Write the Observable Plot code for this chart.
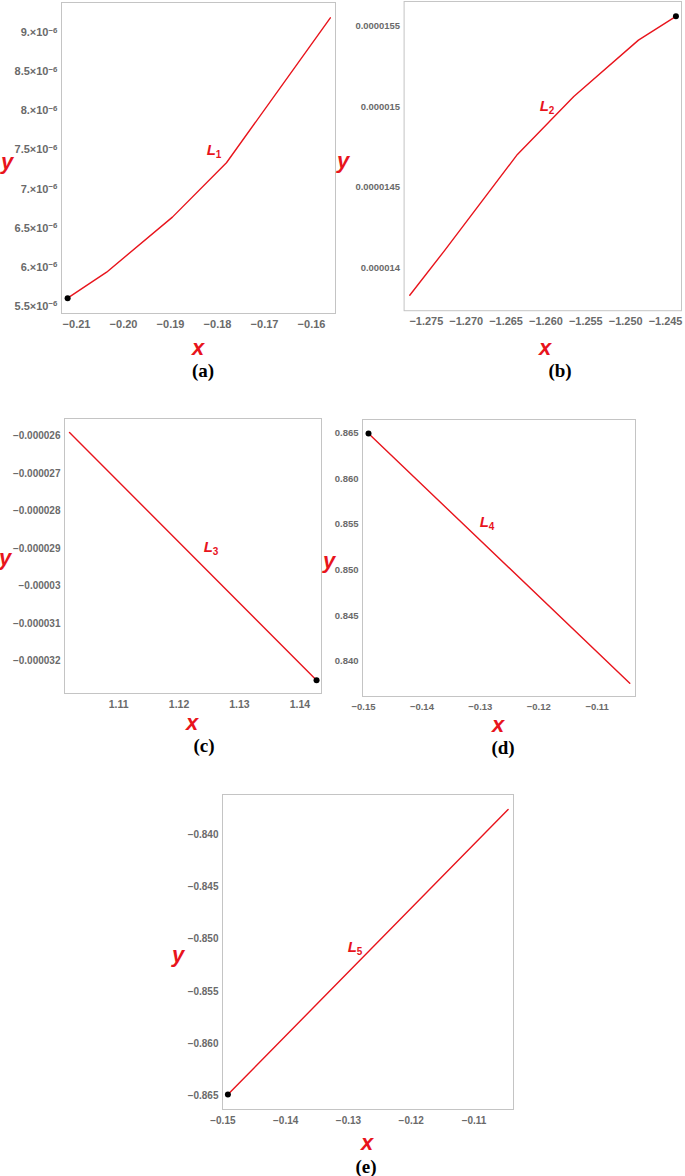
<!DOCTYPE html>
<html>
<head>
<meta charset="utf-8">
<script src="https://cdn.jsdelivr.net/npm/d3@7"></script>
<script src="https://cdn.jsdelivr.net/npm/@observablehq/plot@0.6"></script>
<style>
  html, body { margin: 0; padding: 0; background: #fff; }
  #page { position: relative; width: 685px; height: 1176px; overflow: hidden; }
  .panel { position: absolute; }
  .lbl { position: absolute; transform: translate(-50%, -50%); white-space: nowrap; line-height: 1; }
  .axlbl { color: #e8141c; font-family: "Liberation Sans", Arial, sans-serif; font-weight: bold; font-style: italic; font-size: 22px; }
  .curve { color: #e8141c; font-family: "Liberation Sans", Arial, sans-serif; font-weight: bold; font-style: italic; font-size: 15px; }
  .curve sub { font-size: 10px; font-style: normal; vertical-align: -3px; }
  .cap { color: #000; font-family: "Liberation Serif", "Times New Roman", serif; font-weight: bold; font-size: 19px; }
</style>
</head>
<body>
<div id="page"></div>
<script>
// ---------- data ----------
// (a) curve L1
const aX = [-0.2119, -0.2036, -0.1896, -0.1781, -0.1560];
const aY = [5.602e-6, 5.935e-6, 6.640e-6, 7.336e-6, 9.192e-6];
const aXTicks = [-0.21, -0.20, -0.19, -0.18, -0.17, -0.16];
const aXTickLabels = ["\u22120.21", "\u22120.20", "\u22120.19", "\u22120.18", "\u22120.17", "\u22120.16"];
const aYTicks = [5.5e-6, 6e-6, 6.5e-6, 7e-6, 7.5e-6, 8e-6, 8.5e-6, 9e-6];
const aYTickLabels = ["5.5\u00d710^\u22126", "6.\u00d710^\u22126", "6.5\u00d710^\u22126", "7.\u00d710^\u22126",
                      "7.5\u00d710^\u22126", "8.\u00d710^\u22126", "8.5\u00d710^\u22126", "9.\u00d710^\u22126"];

// (b) curve L2
const bX = [-1.27708, -1.27272, -1.26358, -1.25651, -1.24840, -1.24370];
const bY = [13.831e-6, 14.108e-6, 14.705e-6, 15.064e-6, 15.414e-6, 15.562e-6];
const bXTicks = [-1.275, -1.270, -1.265, -1.260, -1.255, -1.250, -1.245];
const bXTickLabels = ["\u22121.275", "\u22121.270", "\u22121.265", "\u22121.260", "\u22121.255", "\u22121.250", "\u22121.245"];
const bYTicks = [14e-6, 14.5e-6, 15e-6, 15.5e-6];
const bYTickLabels = ["0.000014", "0.0000145", "0.000015", "0.0000155"];

// (c) curve L3
const cX = [1.10186, 1.14276];
const cY = [-25.912e-6, -32.504e-6];
const cXTicks = [1.11, 1.12, 1.13, 1.14];
const cXTickLabels = ["1.11", "1.12", "1.13", "1.14"];
const cYTicks = [-26e-6, -27e-6, -28e-6, -29e-6, -30e-6, -31e-6, -32e-6];
const cYTickLabels = ["\u22120.000026", "\u22120.000027", "\u22120.000028", "\u22120.000029", "\u22120.00003", "\u22120.000031", "\u22120.000032"];

// (d) curve L4
const dX = [-0.14914, -0.10441];
const dY = [0.86493, 0.83759];
const dXTicks = [-0.15, -0.14, -0.13, -0.12, -0.11];
const dXTickLabels = ["\u22120.15", "\u22120.14", "\u22120.13", "\u22120.12", "\u22120.11"];
const dYTicks = [0.840, 0.845, 0.850, 0.855, 0.860, 0.865];
const dYTickLabels = ["0.840", "0.845", "0.850", "0.855", "0.860", "0.865"];

// (e) curve L5
const eX = [-0.14920, -0.10457];
const eY = [-0.86487, -0.83758];
const eXTicks = [-0.15, -0.14, -0.13, -0.12, -0.11];
const eXTickLabels = ["\u22120.15", "\u22120.14", "\u22120.13", "\u22120.12", "\u22120.11"];
const eYTicks = [-0.865, -0.860, -0.855, -0.850, -0.845, -0.840];
const eYTickLabels = ["\u22120.865", "\u22120.860", "\u22120.855", "\u22120.850", "\u22120.845", "\u22120.840"];

// ---------- layout ----------
const page = document.getElementById("page");
const RED = "#e8141c";
const TICK = "#6a6a6a";
const FONT = "'Liberation Sans', Arial, sans-serif";

function fmt(ticks, labels) {
  return d => {
    const i = ticks.findIndex(t => Math.abs(t - d) < Math.abs(ticks[1] - ticks[0]) * 1e-3);
    return i >= 0 ? labels[i] : "";
  };
}

function addLabel(cls, html, x, y) {
  const el = document.createElement("div");
  el.className = "lbl " + cls;
  el.innerHTML = html;
  el.style.left = x + "px";
  el.style.top = y + "px";
  page.appendChild(el);
}

function panel(p) {
  const ml = 70, mr = 4, mt = 4, mb = 26;
  const fw = p.frame[2] - p.frame[0];
  const fh = p.frame[3] - p.frame[1];
  const data = p.xs.map((x, i) => ({x, y: p.ys[i]}));
  const dot = p.dotAt === "start" ? [data[0]] : [data[data.length - 1]];
  const chart = Plot.plot({
    width: fw + ml + mr,
    height: fh + mt + mb,
    marginLeft: ml, marginRight: mr, marginTop: mt, marginBottom: mb,
    style: {fontFamily: FONT, fontWeight: "bold", color: TICK, background: "transparent", overflow: "visible"},
    x: {domain: p.xDomain, label: null},
    y: {domain: p.yDomain, label: null},
    marks: [
      Plot.axisX({ticks: p.xTicks, tickFormat: fmt(p.xTicks, p.xLabels), tickSize: 0, tickPadding: 7, fontSize: p.xFont, fill: TICK, label: null}),
      Plot.axisY({ticks: p.yTicks, tickFormat: fmt(p.yTicks, p.yLabels), tickSize: 0, tickPadding: 4, fontSize: p.yFont, fill: TICK, label: null}),
      Plot.frame({stroke: "#c4c4c4", strokeWidth: 1}),
      Plot.line(data, {x: "x", y: "y", stroke: RED, strokeWidth: 1.4}),
      Plot.dot(dot, {x: "x", y: "y", r: 3, fill: "#000", stroke: "none"})
    ]
  });
  // render "a^b" tick labels with a real superscript
  chart.querySelectorAll("text").forEach(t => {
    const s = t.textContent;
    if (s.includes("^")) {
      const [base, exp] = s.split("^");
      t.textContent = base;
      const sup = document.createElementNS("http://www.w3.org/2000/svg", "tspan");
      sup.setAttribute("dy", "-0.45em");
      sup.setAttribute("font-size", "0.72em");
      sup.textContent = exp;
      t.appendChild(sup);
    }
  });
  const wrap = document.createElement("div");
  wrap.className = "panel";
  wrap.style.left = (p.frame[0] - ml) + "px";
  wrap.style.top = (p.frame[1] - mt) + "px";
  wrap.appendChild(chart);
  page.appendChild(wrap);
  addLabel("axlbl", "y", p.yLab[0], p.yLab[1]);
  addLabel("axlbl", "x", p.xLab[0], p.xLab[1]);
  addLabel("curve", p.curve + "<sub>" + p.sub + "</sub>", p.curvePos[0], p.curvePos[1]);
  addLabel("cap", p.cap, p.capPos[0], p.capPos[1]);
}

panel({frame: [61, 2, 335, 313], xDomain: [-0.2132, -0.1549], yDomain: [5.406e-6, 9.388e-6],
  xs: aX, ys: aY, xTicks: aXTicks, xLabels: aXTickLabels, yTicks: aYTicks, yLabels: aYTickLabels,
  xFont: 11, yFont: 11,
  dotAt: "start", yLab: [7, 162], xLab: [198, 348], curve: "L", sub: "1", curvePos: [214, 151], cap: "(a)", capPos: [203, 370]});

panel({frame: [404, 1, 683, 312], xDomain: [-1.27779, -1.2430], yDomain: [13.735e-6, 15.654e-6],
  xs: bX, ys: bY, xTicks: bXTicks, xLabels: bXTickLabels, yTicks: bYTicks, yLabels: bYTickLabels,
  xFont: 11, yFont: 9.5,
  dotAt: "end", yLab: [343, 161], xLab: [545, 348], curve: "L", sub: "2", curvePos: [547, 107], cap: "(b)", capPos: [560, 370]});

panel({frame: [64, 418, 321, 693], xDomain: [1.10103, 1.14358], yDomain: [-32.858e-6, -25.54e-6],
  xs: cX, ys: cY, xTicks: cXTicks, xLabels: cXTickLabels, yTicks: cYTicks, yLabels: cYTickLabels,
  xFont: 10.5, yFont: 10,
  dotAt: "end", yLab: [5, 558], xLab: [192, 723], curve: "L", sub: "3", curvePos: [211, 548], cap: "(c)", capPos: [204, 745]});

panel({frame: [362, 419, 635, 696], xDomain: [-0.15017, -0.10343], yDomain: [0.83613, 0.86647],
  xs: dX, ys: dY, xTicks: dXTicks, xLabels: dXTickLabels, yTicks: dYTicks, yLabels: dYTickLabels,
  xFont: 9.5, yFont: 9.5,
  dotAt: "start", yLab: [329, 561], xLab: [498, 725], curve: "L", sub: "4", curvePos: [487, 523], cap: "(d)", capPos: [503, 747]});

panel({frame: [222, 794, 513, 1109], xDomain: [-0.15006, -0.10371], yDomain: [-0.86630, -0.83614],
  xs: eX, ys: eY, xTicks: eXTicks, xLabels: eXTickLabels, yTicks: eYTicks, yLabels: eYTickLabels,
  xFont: 10, yFont: 10,
  dotAt: "start", yLab: [178, 955], xLab: [367, 1143], curve: "L", sub: "5", curvePos: [355, 948], cap: "(e)", capPos: [366, 1166]});
</script>
</body>
</html>
